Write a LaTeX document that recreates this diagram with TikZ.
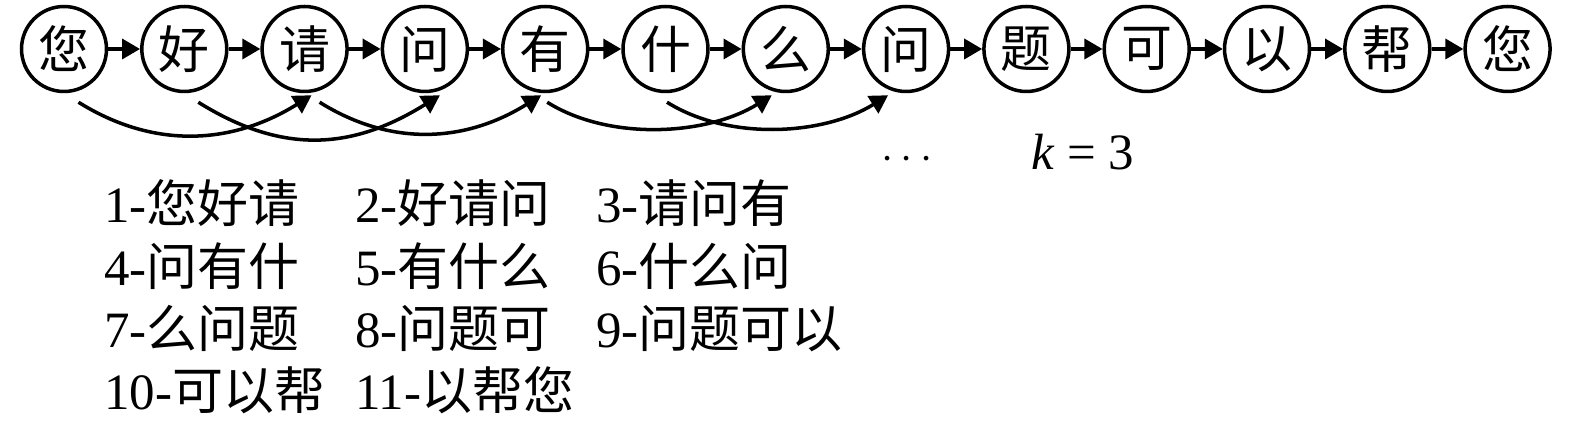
\documentclass[tikz,border=0pt]{standalone}
\usepackage{fontspec}
\setmainfont{Liberation Serif}
\newfontfamily\zhfont{Noto Sans CJK SC}
\usetikzlibrary{arrows.meta}

\begin{document}
\begin{tikzpicture}[x=0.02cm, y=-0.02cm, >={Triangle[length=0.36cm,width=0.4cm]}]
		\useasboundingbox (0,0) rectangle (1575,431);
		\begin{scope}[every node/.style={circle,draw,line width=2pt,minimum size=1.7cm,inner sep=0pt,font=\fontsize{29}{32}\selectfont\zhfont}]
			\node (w1) at (64,49) {您};
			\node (w2) at (184.3,49) {好};
			\node (w3) at (304.6,49) {请};
			\node (w4) at (424.9,49) {问};
			\node (w5) at (545.2,49) {有};
			\node (w6) at (665.5,49) {什};
			\node (w7) at (785.8,49) {么};
			\node (w8) at (906.1,49) {问};
			\node (w9) at (1026.4,49) {题};
			\node (w10) at (1146.7,49) {可};
			\node (w11) at (1267,49) {以};
			\node (w12) at (1387.3,49) {帮};
			\node (w13) at (1507.6,49) {您};
		\end{scope}
		\begin{scope}[every path/.style={line width=2pt,->}]
			\path (w1) edge (w2);
			\path (w2) edge (w3);
			\path (w3) edge (w4);
			\path (w4) edge (w5);
			\path (w5) edge (w6);
			\path (w6) edge (w7);
			\path (w7) edge (w8);
			\path (w8) edge (w9);
			\path (w9) edge (w10);
			\path (w10) edge (w11);
			\path (w11) edge (w12);
			\path (w12) edge (w13);
		\end{scope}
		% windows of size k, jumping two words ahead
		\begin{scope}[every path/.style={line width=2pt,->}]
			\foreach \a/\b/\s/\e/\l in {1/3/14.5/7/1.0, 2/4/14/15/1.07, 3/5/15/-4/1.0, 5/7/2/-14/0.85, 6/8/1.5/-18/0.86}
			\draw ([shift={(\s,9)}]w\a.south) to[out=-32,in=-148,looseness=\l] ([shift={(\e,2)}]w\b.south);
		\end{scope}
		\node[anchor=base] (dots) at (907,170) {\fontsize{32}{34}\selectfont$\cdots$};
		\node[anchor=base west,inner sep=0pt] (kval) at (1031,170) {\fontsize{29}{34}\selectfont\textit{k} = 3};
		\begin{scope}[every node/.style={anchor=base west,inner sep=0pt,font=\fontsize{29}{34}\selectfont}]
			\node (l1) at (104,223) {1-{\zhfont 您好请}};
			\node (l2) at (355,223) {2-{\zhfont 好请问}};
			\node (l3) at (596,223) {3-{\zhfont 请问有}};
			\node (l4) at (104,285.5) {4-{\zhfont 问有什}};
			\node (l5) at (355,285.5) {5-{\zhfont 有什么}};
			\node (l6) at (596,285.5) {6-{\zhfont 什么问}};
			\node (l7) at (104,348) {7-{\zhfont 么问题}};
			\node (l8) at (355,348) {8-{\zhfont 问题可}};
			\node (l9) at (596,348) {9-{\zhfont 问题可以}};
			\node (l10) at (104,410) {10-{\zhfont 可以帮}};
			\node (l11) at (355,410) {11-{\zhfont 以帮您}};
		\end{scope}
	\end{tikzpicture}
\end{document}
